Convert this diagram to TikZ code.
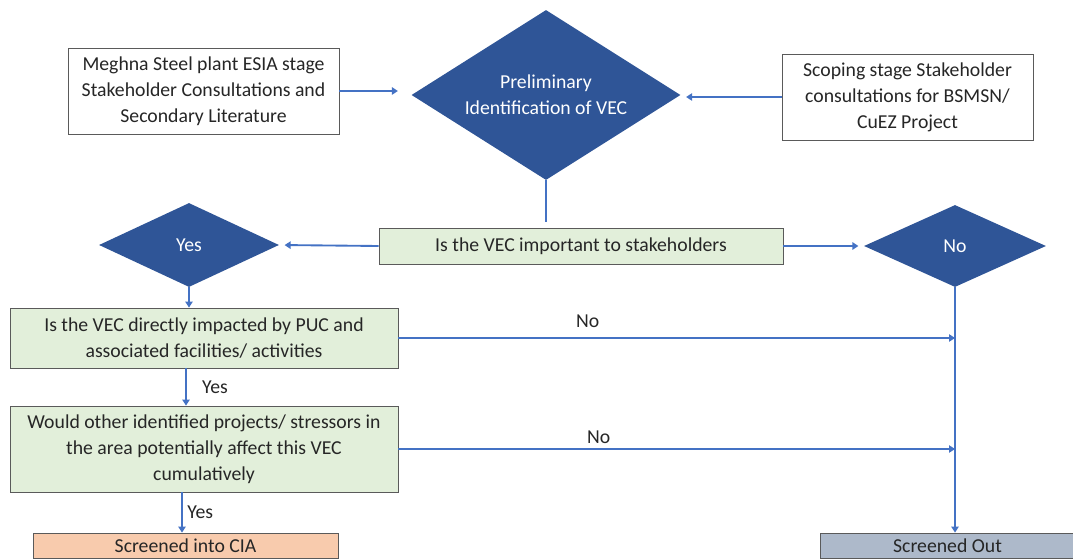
\documentclass[tikz,border=0pt]{standalone}
\usepackage{fontspec}
\setmainfont{Carlito}
\usepackage{xcolor}
\definecolor{vblue}{RGB}{47,85,151}
\definecolor{lblue}{RGB}{68,114,196}
\definecolor{qgreen}{RGB}{226,239,218}
\definecolor{csalmon}{RGB}{248,203,173}
\definecolor{ogrey}{RGB}{173,185,202}
\definecolor{bgrey}{RGB}{90,90,90}
\definecolor{tgrey}{RGB}{38,38,38}
\usetikzlibrary{shapes.geometric}
\usetikzlibrary{arrows.meta}
\tikzset{
  boxw/.style={draw=bgrey, line width=0.6pt, fill=white, text=tgrey, align=center, inner sep=0pt, font=\fontsize{14.8}{19.5}\selectfont},
  boxg/.style={boxw, fill=qgreen},
  dia/.style={diamond, fill=vblue, text=white, align=center, inner sep=0pt, font=\fontsize{14.8}{19.5}\selectfont},
  arr/.style={draw=lblue, line width=1.4pt, -{Triangle[width=5.5pt,length=4.5pt]}},
  lin/.style={draw=lblue, line width=1.4pt},
  lab/.style={text=tgrey, font=\fontsize{14.8}{19.5}\selectfont}
}

\begin{document}
\begin{tikzpicture}[x=0.75pt, y=-0.75pt]
\useasboundingbox (0,0) rectangle (1073,559);
\node [boxw, minimum width=203.25pt, minimum height=64.5pt] (m1) at (203.5,91) {Meghna Steel plant ESIA stage\\Stakeholder Consultations and\\Secondary Literature};
\node [boxw, minimum width=188.25pt, minimum height=64.5pt] (s1) at (907.5,97) {Scoping stage Stakeholder\\consultations for BSMSN/\\CuEZ Project};
\node [dia, minimum width=201.75pt, minimum height=127.5pt, aspect=1.58] (d1) at (546,95) {Preliminary\\Identification of VEC};
\node [boxg, minimum width=303pt, minimum height=27pt] (q1) at (581,246) {Is the VEC important to stakeholders};
\node [dia, minimum width=135pt, minimum height=63pt] (d2) at (189,245) {Yes};
\node [dia, minimum width=136.5pt, minimum height=61.5pt] (d3) at (955,246) {No};
\node [boxg, minimum width=291pt, minimum height=45pt] (q2) at (204,338) {Is the VEC directly impacted by PUC and\\associated facilities/ activities};
\node [boxg, minimum width=291pt, minimum height=64.5pt] (q3) at (204,449) {Would other identified projects/ stressors in\\the area potentially affect this VEC\\cumulatively};
\node [boxw, fill=csalmon, minimum width=228.75pt, minimum height=18.75pt] (r1) at (185.5,545.5) {Screened into CIA};
\node [boxw, fill=ogrey, minimum width=191.25pt, minimum height=18.75pt] (r2) at (947.5,545.5) {Screened Out};

\draw [arr, shorten >=10pt] (m1.east) -- (m1.east -| d1.west);
\draw [arr, shorten >=4pt] (s1.west) -- (s1.west -| d1.east);
\draw [lin, shorten >=4pt] (d1.south) -- (q1.north -| d1.south);
\draw [arr, shorten >=4pt] (q1.west) -- (d2.east);
\draw [arr, shorten >=4pt] (q1.east) -- (d3.west);
\draw [arr] (d2.south) -- (q2.north -| d2.south);
\draw [arr] (q2.south -| 186,0) -- node [lab, right, xshift=8pt] {Yes} (q3.north -| 186,0);
\draw [arr] (q3.south -| 182,0) -- node [lab, right] {Yes} (r1.north -| 182,0);
\draw [arr] (d3.south) -- (r2.north -| d3.south);
\draw [arr] (q2.east) -- node [lab, above, pos=0.34, yshift=4pt] {No} (q2.east -| d3.south);
\draw [arr] (q3.east) -- node [lab, above, pos=0.36] {No} (q3.east -| d3.south);
\end{tikzpicture}
\end{document}
